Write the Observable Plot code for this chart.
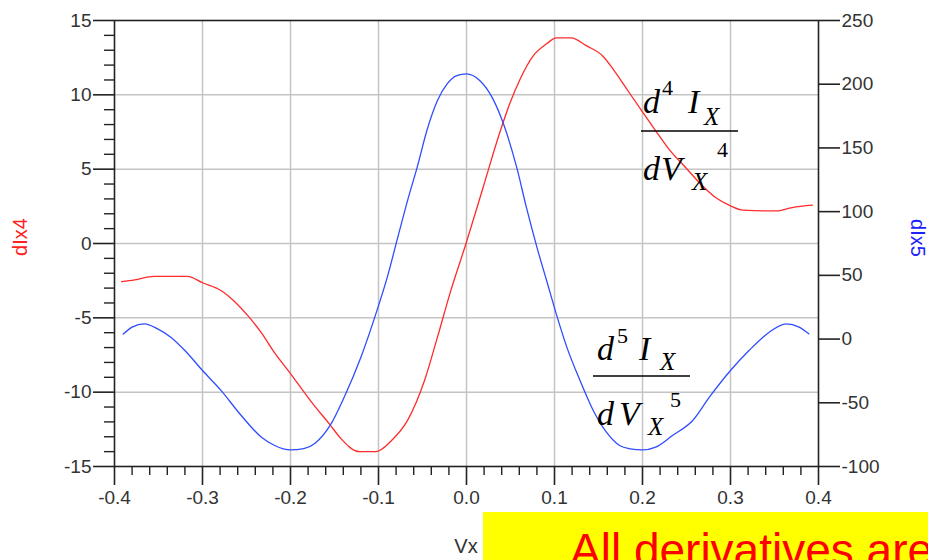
<!DOCTYPE html>
<html><head><meta charset="utf-8">
<script src="https://cdn.jsdelivr.net/npm/d3@7"></script>
<script src="https://cdn.jsdelivr.net/npm/@observablehq/plot@0.6"></script>
<style>body{margin:0;overflow:hidden;background:#fff}</style>
</head><body><div id="chart"></div>
<script>
// ---- data ----
const vx4 = [-0.392,-0.377,-0.355,-0.317,-0.300,-0.279,-0.264,-0.248,-0.233,-0.218,-0.200,-0.177,-0.155,-0.143,-0.122,-0.103,-0.086,-0.067,-0.048,-0.033,-0.018,0.000,0.019,0.038,0.049,0.061,0.076,0.091,0.102,0.119,0.136,0.155,0.167,0.182,0.200,0.215,0.230,0.249,0.268,0.283,0.300,0.314,0.352,0.370,0.393];
const dIx4 = [-2.57,-2.44,-2.21,-2.21,-2.64,-3.16,-3.88,-4.89,-6.01,-7.36,-8.75,-10.6,-12.2,-13.1,-14.0,-14.0,-13.3,-11.9,-9.27,-6.3,-3.2,0.1,3.8,7.5,9.38,11.07,12.64,13.43,13.83,13.83,13.31,12.6,11.7,10.4,8.85,7.58,6.35,5.11,3.88,3.09,2.53,2.24,2.19,2.42,2.58];
const vx5 = [-0.390,-0.380,-0.366,-0.351,-0.336,-0.320,-0.300,-0.279,-0.256,-0.233,-0.218,-0.200,-0.185,-0.172,-0.155,-0.139,-0.120,-0.103,-0.090,-0.079,-0.067,-0.056,-0.045,-0.033,-0.022,-0.011,0.000,0.015,0.030,0.042,0.057,0.068,0.080,0.091,0.102,0.114,0.129,0.144,0.159,0.174,0.186,0.200,0.215,0.234,0.257,0.276,0.300,0.321,0.344,0.363,0.378,0.389];
const dIx5 = [4,9.4,12,8,1.5,-9,-24.7,-40.3,-60,-77,-83.5,-87,-86,-81.7,-67.8,-45.6,-14.2,19.8,48.6,77.4,108.7,134.9,163.7,187.2,200.3,206.8,208.1,202.9,188.5,168.9,134.9,103.5,72.1,46,19.8,-6.3,-32.5,-56,-73,-83.5,-86.1,-87,-84.8,-75.7,-63.9,-45.6,-24.7,-9,5.4,12,9.4,4.1];

const xMajor = [-0.4,-0.3,-0.2,-0.1,0,0.1,0.2,0.3,0.4];
const xGrid = [-0.3,-0.2,-0.1,0,0.1,0.2,0.3];
const xMinor = d3.range(-40, 41, 2).filter(v => v % 10 !== 0).map(v => v / 100);
const yLeftMajor = [-15,-10,-5,0,5,10,15];
const yGrid = [-10,-5,0,5,10];
const yLeftMinor = d3.range(-15, 16).filter(v => v % 5 !== 0);
const yRightTicks = [-100,-50,0,50,100,150,200,250];

// right axis (dIx5) domain [-100,250] mapped onto the left domain [-15,15]
const toLeft = r => -15 + (r + 100) * 30 / 350;
const fromLeft = l => (l + 15) * 350 / 30 - 100;

const red = "#ff2b2b", blue = "#2f4dff", ink = "#222", txt = "#333";

const s4 = vx4.map((x, i) => ({x, y: dIx4[i]}));
const s5 = vx5.map((x, i) => ({x, y: toLeft(dIx5[i])}));

const plot = Plot.plot({
  width: 928, height: 560,
  marginTop: 20, marginBottom: 94, marginLeft: 114, marginRight: 110,
  style: {fontFamily: "'Liberation Sans', Arial, sans-serif", fontSize: "19px", color: txt, background: "#fff"},
  x: {domain: [-0.4, 0.4], axis: null},
  y: {domain: [-15, 15], axis: null},
  marks: [
    Plot.gridX(xGrid, {stroke: "#c4c4c4", strokeOpacity: 1, strokeWidth: 1.5}),
    Plot.gridY(yGrid, {stroke: "#c4c4c4", strokeOpacity: 1, strokeWidth: 1.5}),
    Plot.line(s4, {x: "x", y: "y", stroke: red, strokeWidth: 1.3, curve: "monotone-x"}),
    Plot.line(s5, {x: "x", y: "y", stroke: blue, strokeWidth: 1.3, curve: "monotone-x"}),
    Plot.frame({stroke: ink, strokeWidth: 1.6}),
    Plot.axisX(xMajor, {anchor: "bottom", tickSize: 19, tickPadding: 5, stroke: ink, strokeWidth: 1.6, fill: txt, fontSize: 19, tickFormat: d => d.toFixed(1), label: null}),
    Plot.axisX(xMinor, {anchor: "bottom", tickSize: 9, stroke: ink, strokeWidth: 1.4, tickFormat: () => "", label: null}),
    Plot.axisY(yLeftMajor, {anchor: "left", tickSize: 21, tickPadding: 2, stroke: ink, strokeWidth: 1.6, fill: txt, fontSize: 19, tickFormat: d => String(d), label: null}),
    Plot.axisY(yLeftMinor, {anchor: "left", tickSize: 10, stroke: ink, strokeWidth: 1.4, tickFormat: () => "", label: null}),
    Plot.axisY(yRightTicks.map(toLeft), {anchor: "right", tickSize: 21, tickPadding: 2, stroke: ink, strokeWidth: 1.6, fill: txt, fontSize: 19, tickFormat: d => String(Math.round(fromLeft(d))), label: null})
  ]
});
document.getElementById("chart").append(plot);

// ---- annotations ----
const svg = d3.select(plot);
const g = svg.append("g");
g.append("text").attr("transform", "translate(22,237) rotate(-90)").attr("text-anchor", "middle").attr("dominant-baseline", "middle")
  .attr("fill", "#ff2020").style("font-size", "20px").text("dIx4");
g.append("text").attr("transform", "translate(916,238) rotate(90)").attr("text-anchor", "middle").attr("dominant-baseline", "middle")
  .attr("fill", "#2020ff").style("font-size", "20px").text("dIx5");
g.append("text").attr("x", 466).attr("y", 553).attr("text-anchor", "middle").attr("fill", txt).style("font-size", "20px").text("Vx");

function formula(pieces, line) {
  const f = g.append("g").style("font-family", "'Liberation Serif', 'Times New Roman', serif").attr("fill", "#000");
  pieces.forEach(([t, x, y, size, it]) => {
    f.append("text").attr("x", x).attr("y", y).attr("text-anchor", "start")
      .style("font-size", size + "px").style("font-style", it ? "italic" : "normal").text(t);
  });
  f.append("line").attr("x1", line[0]).attr("x2", line[1]).attr("y1", line[2]).attr("y2", line[2]).attr("stroke", "#000").attr("stroke-width", 1.6);
}
formula([["d",643,113,34,1],["4",662,95,22,0],["I",688,113,34,1],["X",704,125,25,1],
         ["d",643,180,34,1],["V",661,180,34,1],["X",692,190,25,1],["4",717,157,22,0]], [641,738,131]);
formula([["d",597,360,34,1],["5",617,343,22,0],["I",639,360,34,1],["X",660,370,25,1],
         ["d",597,425,34,1],["V",619,425,34,1],["X",648,435,25,1],["5",670,407,22,0]], [593,690,376]);

g.append("rect").attr("x", 483).attr("y", 512).attr("width", 445).attr("height", 48).attr("fill", "#ffff00");
g.append("text").attr("x", 570).attr("y", 566).attr("text-anchor", "start").attr("fill", "#ff0000").style("font-size", "46px").text("All derivatives are");
</script></body></html>
